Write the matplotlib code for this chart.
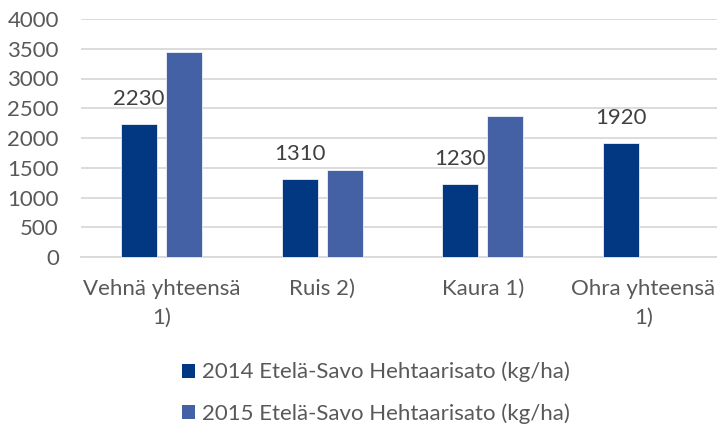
import matplotlib
matplotlib.use("Agg")
from matplotlib import pyplot as plt
from matplotlib.patches import Patch
import numpy as np

categories = ["Vehnä yhteensä\n1)", "Ruis 2)", "Kaura 1)", "Ohra yhteensä\n1)"]
yield_2014 = [2230, 1310, 1230, 1920]
yield_2015 = [3450, 1460, 2370, np.nan]
series_names = ["2014 Etelä-Savo Hehtaarisato (kg/ha)", "2015 Etelä-Savo Hehtaarisato (kg/ha)"]
yticks = [0, 500, 1000, 1500, 2000, 2500, 3000, 3500, 4000]

c2014 = "#023882"
c2015 = "#4461A5"
grey = "#595959"

plt.rcParams['font.family'] = ['Lato', 'DejaVu Sans']

W, H = 717, 428
fig = plt.figure(figsize=(W / 100, H / 100), dpi=100)
ax = fig.add_axes((81 / W, 1 - 257 / H, (W - 81) / W, (257 - 19) / H))

x = np.arange(len(categories))
w = 0.224
off = 0.14
ax.bar(x - off, yield_2014, w, color=c2014, edgecolor="white", linewidth=0.5, zorder=3)
ax.bar(x + off, yield_2015, w, color=c2015, edgecolor="white", linewidth=0.5, zorder=3)

# only the 2014 series has data labels
for xi, v in zip(x, yield_2014):
    ax.annotate(str(v), (xi - off, v), xytext=(0, 18), textcoords="offset points",
                ha="center", va="center", fontsize=16, color="#404040")

ax.set_ylim(0, 4000)
ax.set_xlim(-0.5, -0.5 + (W - 81) / 160.7)
ax.set_yticks(yticks)
ax.set_yticklabels([str(t) for t in yticks])
ax.yaxis.grid(True, color="#D9D9D9", linewidth=1.3, zorder=0)
ax.set_axisbelow(True)
for s in ["top", "right", "left"]:
    ax.spines[s].set_visible(False)
ax.spines["bottom"].set_color("#D9D9D9")
ax.spines["bottom"].set_linewidth(1.3)
ax.tick_params(axis="y", length=0, pad=16, labelsize=16, labelcolor=grey)
ax.tick_params(axis="x", length=0, pad=16, labelsize=16, labelcolor=grey)
ax.set_xticks(x)
ax.set_xticklabels(categories, linespacing=1.55)

handles = [Patch(facecolor=c2014), Patch(facecolor=c2015)]
fig.legend(handles, series_names, loc="center", bbox_to_anchor=(376 / W, 1 - 393 / H),
           ncol=1, frameon=False, fontsize=16, labelcolor=grey,
           handlelength=0.6, handleheight=0.6, handletextpad=0.3, labelspacing=0.95)

plt.savefig("out.png", dpi=100)
